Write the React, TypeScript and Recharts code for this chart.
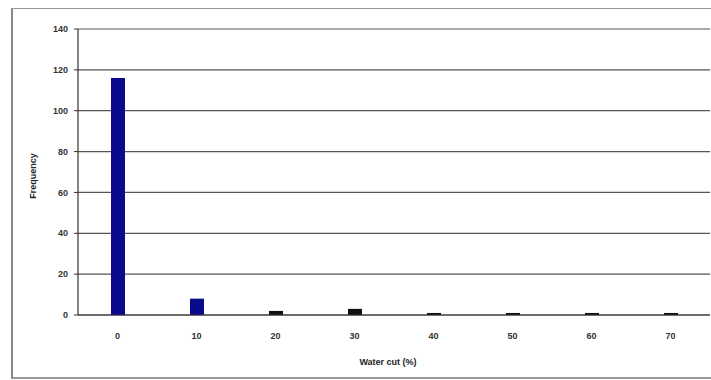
import React from 'react';
import { BarChart, Bar, XAxis, YAxis, CartesianGrid, Cell } from 'recharts';

const waterCut = ['0', '10', '20', '30', '40', '50', '60', '70'];
const frequency = [116, 8, 2, 3, 1, 1, 1, 1];
const yTicks = [0, 20, 40, 60, 80, 100, 120, 140];

const data = waterCut.map((c, i) => ({ cut: c, freq: frequency[i] }));

const tickStyle = {
  fill: '#333',
  fontSize: 9,
  fontWeight: 700,
  fontFamily: 'Liberation Sans, Arial, sans-serif',
};

export default function App() {
  return (
    <div
      style={{
        position: 'absolute',
        left: 0,
        top: 0,
        width: 711,
        height: 380,
        background: '#fff',
        overflow: 'hidden',
      }}
    >
      <div
        style={{
          position: 'absolute',
          left: 11,
          top: 8,
          width: 700,
          height: 368,
          borderLeft: '2px solid #888',
          borderTop: '1px solid #999',
          borderBottom: '2px solid #999',
        }}
      />
      <div style={{ position: 'absolute', left: 0, top: 0 }}>
        <BarChart
          width={711}
          height={380}
          data={data}
          margin={{ top: 29, right: 1, left: 0, bottom: 0 }}
          barSize={14}
        >
          <CartesianGrid vertical={false} stroke="#555" strokeWidth={1.2} />
          <XAxis
            dataKey="cut"
            height={65}
            tick={tickStyle}
            tickLine={false}
            axisLine={{ stroke: '#333', strokeWidth: 1.2 }}
            tickMargin={12}
            label={{
              value: 'Water cut (%)',
              position: 'insideTop',
              offset: 44,
              dx: -6,
              style: { ...tickStyle, fill: '#222', fontSize: 9 },
            }}
          />
          <YAxis
            width={78}
            domain={[0, 140]}
            ticks={yTicks}
            interval={0}
            tick={tickStyle}
            tickSize={4}
            tickLine={{ stroke: '#333' }}
            axisLine={{ stroke: '#333', strokeWidth: 1.2 }}
            tickMargin={6}
            label={{
              value: 'Frequency',
              angle: -90,
              position: 'insideLeft',
              offset: 33,
              dy: 4,
              style: { ...tickStyle, fill: '#222', textAnchor: 'middle' },
            }}
          />
          <Bar dataKey="freq" isAnimationActive={false}>
            {data.map((d, i) => (
              <Cell key={`c-${i}`} fill={i < 2 ? '#0a0a8c' : '#111'} />
            ))}
          </Bar>
        </BarChart>
      </div>
    </div>
  );
}
